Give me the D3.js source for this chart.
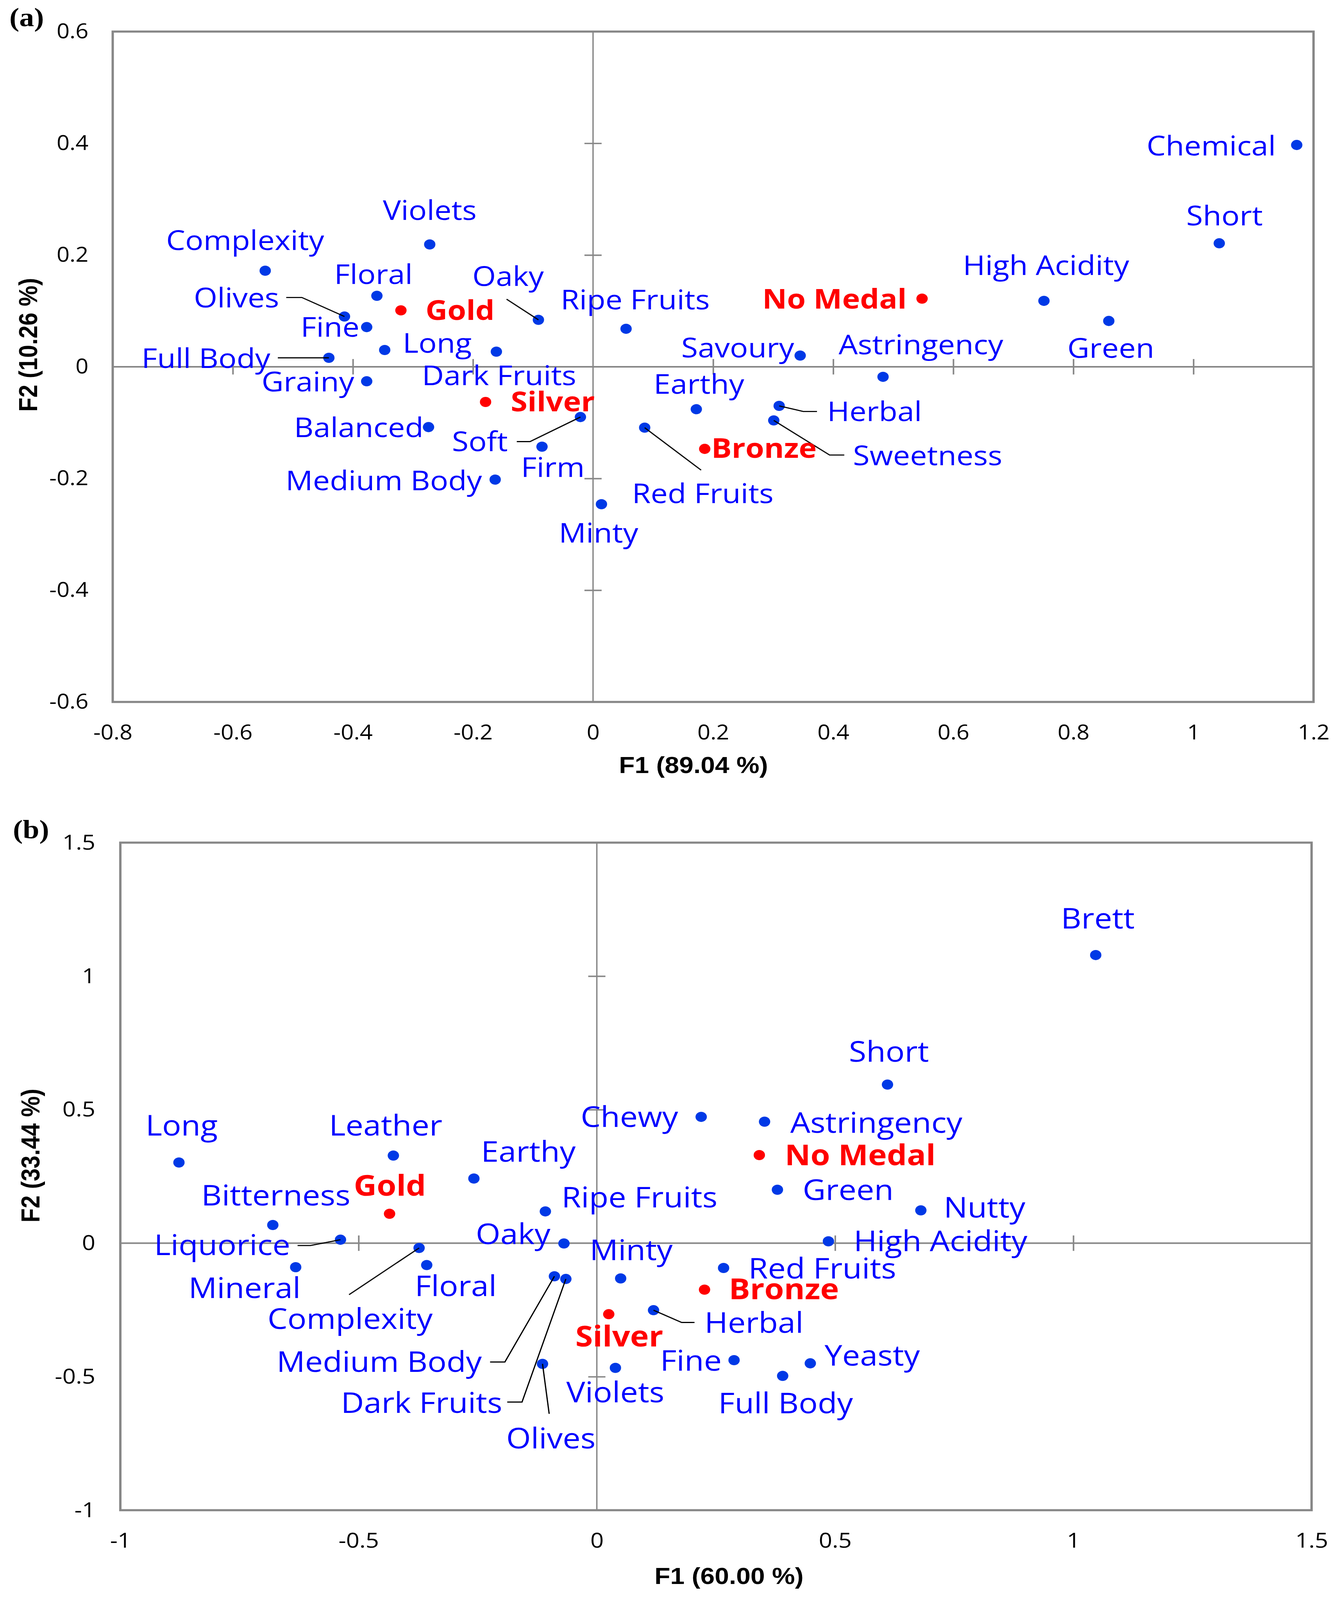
<!DOCTYPE html>
<html>
<head>
<meta charset="utf-8">
<script src="https://cdn.jsdelivr.net/npm/d3@7"></script>
<style>
  html, body { margin: 0; padding: 0; background: #ffffff; overflow: hidden; }
  #chart svg { display: block; }
</style>
</head>
<body>
<div id="chart"></div>
<script>
// ---- panel (a) data ----
const attrA = ["Violets", "Complexity", "Floral", "Olives", "Fine", "Oaky", "Ripe Fruits", "Long",
  "Dark Fruits", "Full Body", "Grainy", "Chemical", "Short", "High Acidity", "Green", "Savoury",
  "Astringency", "Earthy", "Herbal", "Soft", "Balanced", "Firm", "Red Fruits", "Sweetness",
  "Medium Body", "Minty"];
const f1A = [-0.272, -0.546, -0.360, -0.414, -0.377, -0.091, 0.055, -0.347, -0.161, -0.440, -0.377,
  1.172, 1.043, 0.751, 0.859, 0.345, 0.483, 0.172, 0.310, -0.021, -0.274, -0.085, 0.086, 0.301,
  -0.163, 0.014];
const f2A = [0.219, 0.172, 0.127, 0.090, 0.071, 0.084, 0.068, 0.030, 0.027, 0.016, -0.026,
  0.397, 0.221, 0.118, 0.082, 0.020, -0.018, -0.076, -0.070, -0.090, -0.108, -0.143, -0.109, -0.096,
  -0.202, -0.246];
const medals = ["Gold", "Silver", "Bronze", "No Medal"];
const medalF1A = [-0.320, -0.179, 0.186, 0.548];
const medalF2A = [0.101, -0.063, -0.147, 0.122];
const xTicksA = [-0.8, -0.6, -0.4, -0.2, 0, 0.2, 0.4, 0.6, 0.8, 1, 1.2];
const yTicksA = [-0.6, -0.4, -0.2, 0, 0.2, 0.4, 0.6];

// ---- panel (b) data ----
const attrB = ["Long", "Leather", "Earthy", "Ripe Fruits", "Bitterness", "Brett", "Short", "Chewy",
  "Astringency", "Green", "Nutty", "Liquorice", "Oaky", "High Acidity", "Complexity", "Floral",
  "Mineral", "Medium Body", "Dark Fruits", "Minty", "Red Fruits", "Herbal", "Olives", "Violets",
  "Fine", "Yeasty", "Full Body"];
const f1B = [-0.877, -0.427, -0.258, -0.108, -0.680, 1.047, 0.610, 0.219, 0.352, 0.379, 0.680,
  -0.538, -0.069, 0.486, -0.373, -0.357, -0.632, -0.089, -0.065, 0.050, 0.266, 0.119, -0.114,
  0.039, 0.288, 0.448, 0.390];
const f2B = [0.302, 0.328, 0.242, 0.119, 0.068, 1.079, 0.594, 0.473, 0.455, 0.200, 0.123,
  0.013, -0.001, 0.007, -0.018, -0.082, -0.090, -0.124, -0.134, -0.132, -0.093, -0.251, -0.452,
  -0.467, -0.438, -0.450, -0.497];
const medalF1B = [-0.435, 0.025, 0.226, 0.341];
const medalF2B = [0.110, -0.266, -0.174, 0.330];
const xTicksB = [-1, -0.5, 0, 0.5, 1, 1.5];
const yTicksB = [-1, -0.5, 0, 0.5, 1, 1.5];

// label anchors (start of text, baseline) in data units
const labelAtA = {
  "Violets": [-0.350, 0.263], "Complexity": [-0.711, 0.209], "Floral": [-0.431, 0.148],
  "Oaky": [-0.201, 0.145], "Olives": [-0.665, 0.106], "Ripe Fruits": [-0.054, 0.103],
  "Fine": [-0.487, 0.054], "Long": [-0.317, 0.025], "Full Body": [-0.752, -0.002],
  "Dark Fruits": [-0.285, -0.033], "Grainy": [-0.552, -0.044], "Chemical": [0.922, 0.378],
  "Short": [0.988, 0.253], "High Acidity": [0.616, 0.164], "Savoury": [0.147, 0.017],
  "Astringency": [0.409, 0.022], "Green": [0.790, 0.016], "Herbal": [0.390, -0.097],
  "Earthy": [0.101, -0.048], "Balanced": [-0.498, -0.126], "Soft": [-0.235, -0.151],
  "Firm": [-0.120, -0.197], "Sweetness": [0.433, -0.176], "Red Fruits": [0.065, -0.244],
  "Medium Body": [-0.512, -0.221], "Minty": [-0.057, -0.315],
  "Gold": [-0.279, 0.084], "Silver": [-0.137, -0.080], "Bronze": [0.197, -0.163], "No Medal": [0.282, 0.104]
};
const labelAtB = {
  "Long": [-0.947, 0.4025], "Leather": [-0.562, 0.4025], "Earthy": [-0.243, 0.305],
  "Chewy": [-0.034, 0.435], "Bitterness": [-0.830, 0.141], "Ripe Fruits": [-0.074, 0.134],
  "Brett": [0.974, 1.1785], "Short": [0.529, 0.679], "Astringency": [0.406, 0.413],
  "Green": [0.432, 0.161], "Nutty": [0.728, 0.096], "Liquorice": [-0.929, -0.044],
  "Oaky": [-0.254, -0.004], "Minty": [-0.015, -0.064], "High Acidity": [0.539, -0.030],
  "Red Fruits": [0.318, -0.132], "Mineral": [-0.857, -0.205], "Floral": [-0.382, -0.198],
  "Complexity": [-0.691, -0.321], "Herbal": [0.226, -0.336], "Medium Body": [-0.672, -0.482],
  "Fine": [0.133, -0.477], "Yeasty": [0.478, -0.458], "Violets": [-0.064, -0.596],
  "Full Body": [0.255, -0.637], "Dark Fruits": [-0.537, -0.636], "Olives": [-0.190, -0.769],
  "Gold": [-0.510, 0.178], "Silver": [-0.045, -0.387], "Bronze": [0.277, -0.210], "No Medal": [0.3945, 0.292]
};

// leader line bends, from the label side towards the point
const leadersA = {
  "Olives": [[-0.511, 0.124], [-0.485, 0.124]],
  "Oaky": [[-0.144, 0.121]],
  "Full Body": [[-0.525, 0.016]],
  "Herbal": [[0.373, -0.080], [0.350, -0.080]],
  "Soft": [[-0.127, -0.134], [-0.105, -0.134]],
  "Sweetness": [[0.4185, -0.158], [0.394, -0.158]],
  "Red Fruits": [[0.180, -0.185]]
};
const leadersB = {
  "Liquorice": [[-0.628, -0.009], [-0.601, -0.009]],
  "Complexity": [[-0.520, -0.193]],
  "Herbal": [[0.205, -0.297], [0.178, -0.297]],
  "Medium Body": [[-0.224, -0.445], [-0.193, -0.445]],
  "Dark Fruits": [[-0.188, -0.595], [-0.157, -0.595]],
  "Olives": [[-0.100, -0.639]]
};

const axisGray = "#878787";
const dotBlue = "#0039e6";
const textFont = "'Open Sans', 'Noto Sans', sans-serif";

// whole figure is laid out on a 3440 x 4561 canvas and stretched to the window
const svg = d3.select("#chart")
  .append("svg")
  .attr("viewBox", "0 0 3440 4561")
  .attr("preserveAspectRatio", "none")
  .style("width", "100vw")
  .style("height", "100vh")
  .style("background-color", "#ffffff");

function drawPanel(p) {
  const x = d3.scaleLinear().domain(p.xDomain).range([p.left, p.right]);
  const y = d3.scaleLinear().domain(p.yDomain).range([p.bottom, p.top]);
  const g = svg.append("g");

  // zero lines
  g.append("line")
    .attr("x1", p.left).attr("x2", p.right)
    .attr("y1", y(0)).attr("y2", y(0))
    .attr("stroke", axisGray).attr("stroke-width", 4.5);
  g.append("line")
    .attr("x1", x(0)).attr("x2", x(0))
    .attr("y1", p.top).attr("y2", p.bottom)
    .attr("stroke", axisGray).attr("stroke-width", 3.5);

  // crossing tick marks sitting on the zero lines
  const inner = (ticks, dom) => ticks.filter(t => t !== 0 && t > dom[0] && t < dom[1]);
  const xt = g.append("g")
    .attr("transform", `translate(0,${y(0)})`)
    .call(d3.axisBottom(x).tickValues(inner(p.xTicks, p.xDomain)).tickSize(22).tickFormat(""));
  xt.select(".domain").remove();
  xt.selectAll(".tick line").attr("y1", -22).attr("stroke", axisGray).attr("stroke-width", 4);

  const yt = g.append("g")
    .attr("transform", `translate(${x(0)},0)`)
    .call(d3.axisLeft(y).tickValues(inner(p.yTicks, p.yDomain)).tickSize(22).tickFormat(""));
  yt.select(".domain").remove();
  yt.selectAll(".tick line").attr("x1", 22).attr("stroke", axisGray).attr("stroke-width", 4);

  // tick labels
  const xl = g.append("g")
    .attr("transform", `translate(0,${p.bottom})`)
    .call(d3.axisBottom(x).tickValues(p.xTicks).tickSize(0).tickPadding(p.xPad).tickFormat(d => String(d)));
  xl.select(".domain").remove();
  xl.selectAll("text")
    .attr("font-family", textFont).attr("font-size", p.tickSize).attr("fill", "#000");

  const yl = g.append("g")
    .attr("transform", `translate(${p.left},0)`)
    .call(d3.axisLeft(y).tickValues(p.yTicks).tickSize(0).tickPadding(p.yPad).tickFormat(d => String(d)));
  yl.select(".domain").remove();
  yl.selectAll("text")
    .attr("font-family", textFont).attr("font-size", p.tickSize).attr("fill", "#000");

  // plot frame
  g.append("rect")
    .attr("x", p.left).attr("y", p.top)
    .attr("width", p.right - p.left).attr("height", p.bottom - p.top)
    .attr("fill", "none").attr("stroke", axisGray).attr("stroke-width", 6);

  // axis titles
  g.append("text")
    .attr("x", p.xTitlePos[0]).attr("y", p.xTitlePos[1])
    .attr("text-anchor", "middle")
    .attr("font-family", "'Liberation Sans', Arial, sans-serif")
    .attr("font-weight", "bold").attr("font-size", 66)
    .text(p.xTitle);
  g.append("text")
    .attr("transform", `translate(${p.yTitlePos[0]},${p.yTitlePos[1]}) rotate(-90)`)
    .attr("text-anchor", "middle")
    .attr("font-family", "'Liberation Sans', Arial, sans-serif")
    .attr("font-weight", "bold").attr("font-size", 66)
    .text(p.yTitle);

  // panel letter
  g.append("text")
    .attr("x", p.letterPos[0]).attr("y", p.letterPos[1])
    .attr("font-family", "'Liberation Serif', 'Times New Roman', serif")
    .attr("font-weight", "bold").attr("font-size", 76)
    .text(p.letter);

  const points = p.names.map((n, i) => ({ name: n, f1: p.f1[i], f2: p.f2[i], medal: false }))
    .concat(medals.map((n, i) => ({ name: n, f1: p.mf1[i], f2: p.mf2[i], medal: true })));

  // dots
  g.selectAll("circle.pt")
    .data(points)
    .enter()
    .append("circle")
    .attr("class", "pt")
    .attr("cx", d => x(d.f1))
    .attr("cy", d => y(d.f2))
    .attr("r", 14.5)
    .attr("fill", d => d.medal ? "#ff0000" : dotBlue);

  // leader lines
  const line = d3.line().x(d => x(d[0])).y(d => y(d[1]));
  points.filter(d => !d.medal && p.leaders[d.name]).forEach(d => {
    g.append("path")
      .attr("d", line(p.leaders[d.name].concat([[d.f1, d.f2]])))
      .attr("fill", "none")
      .attr("stroke", "#000")
      .attr("stroke-width", 3.2);
  });

  // point labels
  g.selectAll("text.lbl")
    .data(points)
    .enter()
    .append("text")
    .attr("class", "lbl")
    .attr("x", d => x(p.labelAt[d.name][0]))
    .attr("y", d => y(p.labelAt[d.name][1]))
    .attr("font-family", textFont)
    .attr("font-size", p.labelSize)
    .attr("font-weight", d => d.medal ? "bold" : "normal")
    .attr("fill", d => d.medal ? "#ff0000" : "#0000ff")
    .text(d => d.name);
}

drawPanel({
  left: 288.5, right: 3362, top: 90, bottom: 2001,
  xDomain: [-0.8, 1.2], yDomain: [-0.6, 0.6],
  xTicks: xTicksA, yTicks: yTicksA,
  names: attrA, f1: f1A, f2: f2A, mf1: medalF1A, mf2: medalF2A,
  labelAt: labelAtA, leaders: leadersA,
  labelSize: 77.5, tickSize: 58, xPad: 66, yPad: 62,
  xTitle: "F1 (89.04 %)", xTitlePos: [1775, 2204],
  yTitle: "F2 (10.26 %)", yTitlePos: [95, 983],
  letter: "(a)", letterPos: [24, 75]
});

drawPanel({
  left: 308, right: 3357, top: 2402, bottom: 4305,
  xDomain: [-1, 1.5], yDomain: [-1, 1.5],
  xTicks: xTicksB, yTicks: yTicksB,
  names: attrB, f1: f1B, f2: f2B, mf1: medalF1B, mf2: medalF2B,
  labelAt: labelAtB, leaders: leadersB,
  labelSize: 81, tickSize: 60, xPad: 64, yPad: 64,
  xTitle: "F1 (60.00 %)", xTitlePos: [1866, 4515],
  yTitle: "F2 (33.44 %)", yTitlePos: [101, 3294],
  letter: "(b)", letterPos: [33, 2390]
});
</script>
</body>
</html>
